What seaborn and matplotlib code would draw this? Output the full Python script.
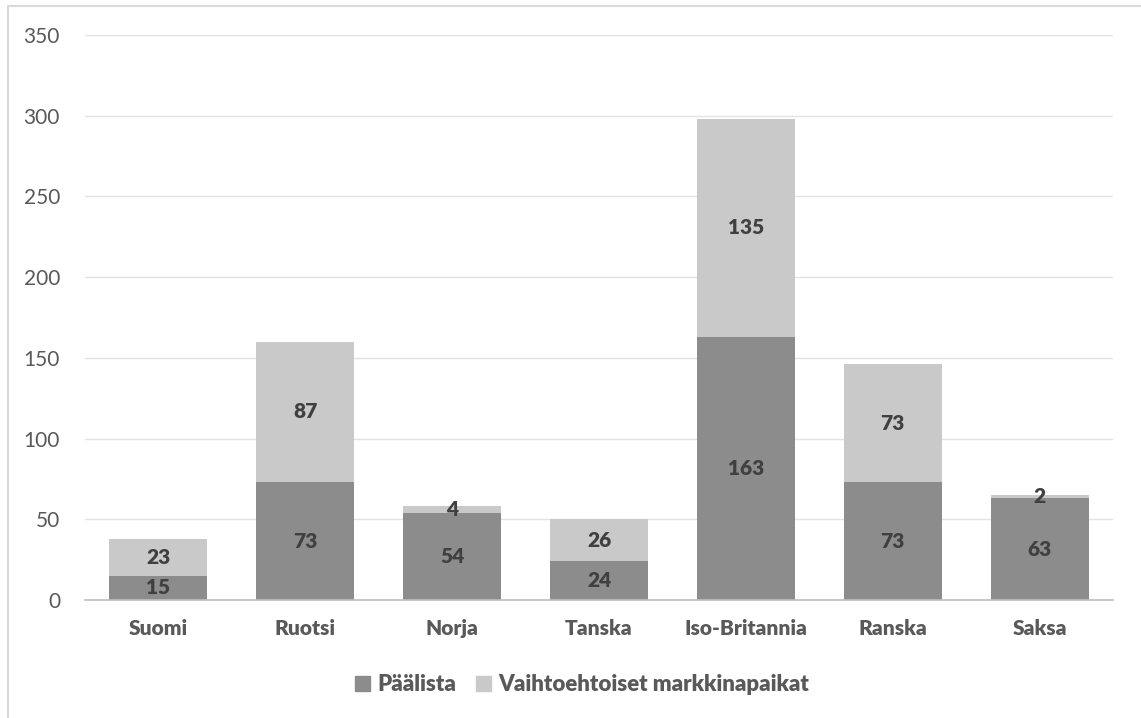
import matplotlib
matplotlib.use("Agg")
import matplotlib.pyplot as plt
import seaborn as sns
import pandas as pd
from matplotlib.patches import Rectangle

countries = ["Suomi", "Ruotsi", "Norja", "Tanska", "Iso-Britannia", "Ranska", "Saksa"]
paalista = [15, 73, 54, 24, 163, 73, 63]
vaihtoehtoiset = [23, 87, 4, 26, 135, 73, 2]
series_names = ["Päälista", "Vaihtoehtoiset markkinapaikat"]
y_ticks = [0, 50, 100, 150, 200, 250, 300, 350]

dark = "#8c8c8c"
light = "#c9c9c9"
text_col = "#595959"
label_col = "#404040"

sns.set_theme(style="white")
plt.rcParams["font.family"] = ["Lato", "DejaVu Sans"]

fig = plt.figure(figsize=(11.41, 7.18), dpi=100)
ax = fig.add_axes([0.0745, 0.1643, 0.901, 0.787])

totals = [a + b for a, b in zip(paalista, vaihtoehtoiset)]
df_tot = pd.DataFrame({"maa": countries, "arvo": totals})
df_base = pd.DataFrame({"maa": countries, "arvo": paalista})

# stacked bars: full height in light grey, main list drawn over it in dark grey
sns.barplot(data=df_tot, x="maa", y="arvo", color=light, saturation=1,
            width=0.667, ax=ax, linewidth=0, errorbar=None)
sns.barplot(data=df_base, x="maa", y="arvo", color=dark, saturation=1,
            width=0.667, ax=ax, linewidth=0, errorbar=None)

for i, (a, b) in enumerate(zip(paalista, vaihtoehtoiset)):
    ax.text(i, a / 2, str(a), ha="center", va="center", fontsize=15,
            fontweight="heavy", color=label_col, zorder=5)
    ax.text(i, a + b / 2, str(b), ha="center", va="center", fontsize=15,
            fontweight="heavy", color=label_col, zorder=5)

ax.set_ylim(0, 350)
ax.set_yticks(y_ticks)
ax.set_xlim(-0.5, len(countries) - 0.5)
ax.yaxis.grid(True, color="#e3e3e3", linewidth=1)
ax.set_axisbelow(True)
for s in ["top", "right", "left"]:
    ax.spines[s].set_visible(False)
ax.spines["bottom"].set_color("#bfbfbf")
ax.spines["bottom"].set_linewidth(1.2)
ax.set_xlabel("")
ax.set_ylabel("")
ax.tick_params(axis="y", length=0, labelsize=15, labelcolor=text_col, pad=18)
ax.tick_params(axis="x", length=0, labelsize=15, labelcolor=text_col, pad=14)
for t in ax.get_xticklabels():
    t.set_fontweight("heavy")

handles = [Rectangle((0, 0), 1, 1, color=dark), Rectangle((0, 0), 1, 1, color=light)]
leg = fig.legend(handles, series_names, loc="center", bbox_to_anchor=(0.51, 0.046),
                 ncol=2, frameon=False, handlelength=0.7, handleheight=0.7,
                 handletextpad=0.3, columnspacing=0.9,
                 prop={"size": 16, "weight": "heavy"})
for t in leg.get_texts():
    t.set_color(text_col)

# outer chart frame
fig.add_artist(plt.Line2D([0.007, 1.0], [0.9916, 0.9916], color="#d9d9d9", lw=1.5,
                          transform=fig.transFigure))
fig.add_artist(plt.Line2D([0.007, 0.007], [0.0, 0.9916], color="#d9d9d9", lw=1.5,
                          transform=fig.transFigure))

fig.savefig("out.png", dpi=100)
